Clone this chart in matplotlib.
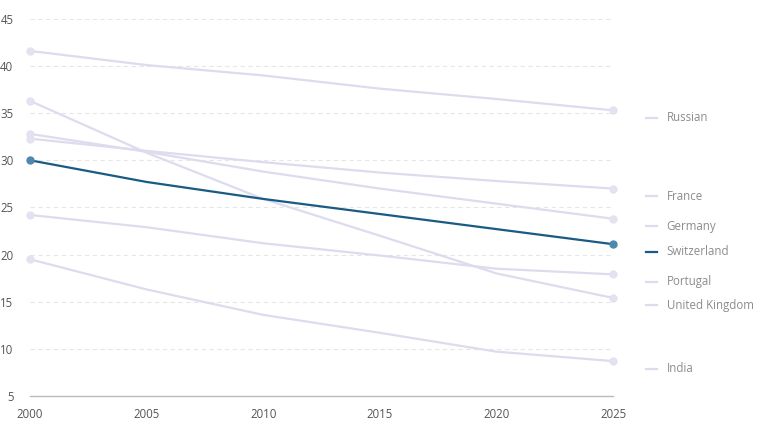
import matplotlib.pyplot as plt

plt.rcParams['font.family'] = ['Open Sans', 'DejaVu Sans']

years = [2000, 2005, 2010, 2015, 2020, 2025]
countries = ['Russian', 'France', 'Germany', 'Switzerland', 'Portugal', 'United Kingdom', 'India']
russian = [41.6, 40.1, 39.0, 37.6, 36.5, 35.3]
france = [32.3, 31.0, 29.8, 28.7, 27.8, 27.0]
germany = [32.8, 30.9, 28.8, 27.0, 25.4, 23.8]
switzerland = [30.0, 27.7, 25.9, 24.3, 22.7, 21.1]
portugal = [24.2, 22.9, 21.2, 19.9, 18.5, 17.9]
uk = [36.3, 30.8, 25.9, 22.0, 18.0, 15.4]
india = [19.5, 16.3, 13.6, 11.7, 9.7, 8.7]
series = [russian, france, germany, switzerland, portugal, uk, india]
# label y positions (nudged so they don't collide)
label_y = [34.5, 26.2, 23.0, 20.3, 17.1, 14.6, 7.9]
highlight = 'Switzerland'

fig = plt.figure(figsize=(7.62, 4.29), dpi=100)
ax = fig.add_axes([0.0394, 0.077, 0.7651, 0.879])

light = '#dcdcee'
dark = '#1a5b85'

for name, vals in zip(countries, series):
    if name == highlight:
        continue
    ax.plot(years, vals, color=light, lw=1.6, zorder=2, solid_capstyle='round')
    ax.plot([years[0], years[-1]], [vals[0], vals[-1]], 'o', ms=5,
            color='#e2e2f0', zorder=3, clip_on=False)

vals = series[countries.index(highlight)]
ax.plot(years, vals, color=dark, lw=1.6, zorder=4)
ax.plot([years[0], years[-1]], [vals[0], vals[-1]], 'o', ms=5,
        color='#4d88ad', zorder=5, clip_on=False)

# right-hand labels
for name, ly in zip(countries, label_y):
    c = dark if name == highlight else light
    ax.plot([2026.4, 2026.9], [ly, ly], color=c, lw=1.6, clip_on=False)
    ax.text(2027.3, ly, name, va='center', ha='left', fontsize=8.3,
            color='#8c8c8c')

ax.set_xlim(2000, 2025)
ax.set_ylim(5, 45)
ax.set_xticks([2000, 2005, 2010, 2015, 2020, 2025])
ax.set_yticks(range(5, 50, 5))
ax.tick_params(length=0, labelsize=8.3, labelcolor='#555555')
ax.tick_params(axis='x', pad=9)
ax.tick_params(axis='y', pad=12)
ax.grid(axis='y', color='#e6e6e6', ls=(0, (4, 3)), lw=0.8)
ax.set_axisbelow(True)
for s in ['left', 'right', 'top']:
    ax.spines[s].set_visible(False)
ax.spines['bottom'].set_color('#bbbbbb')
ax.spines['bottom'].set_linewidth(1)

plt.savefig('out.png', dpi=100)
